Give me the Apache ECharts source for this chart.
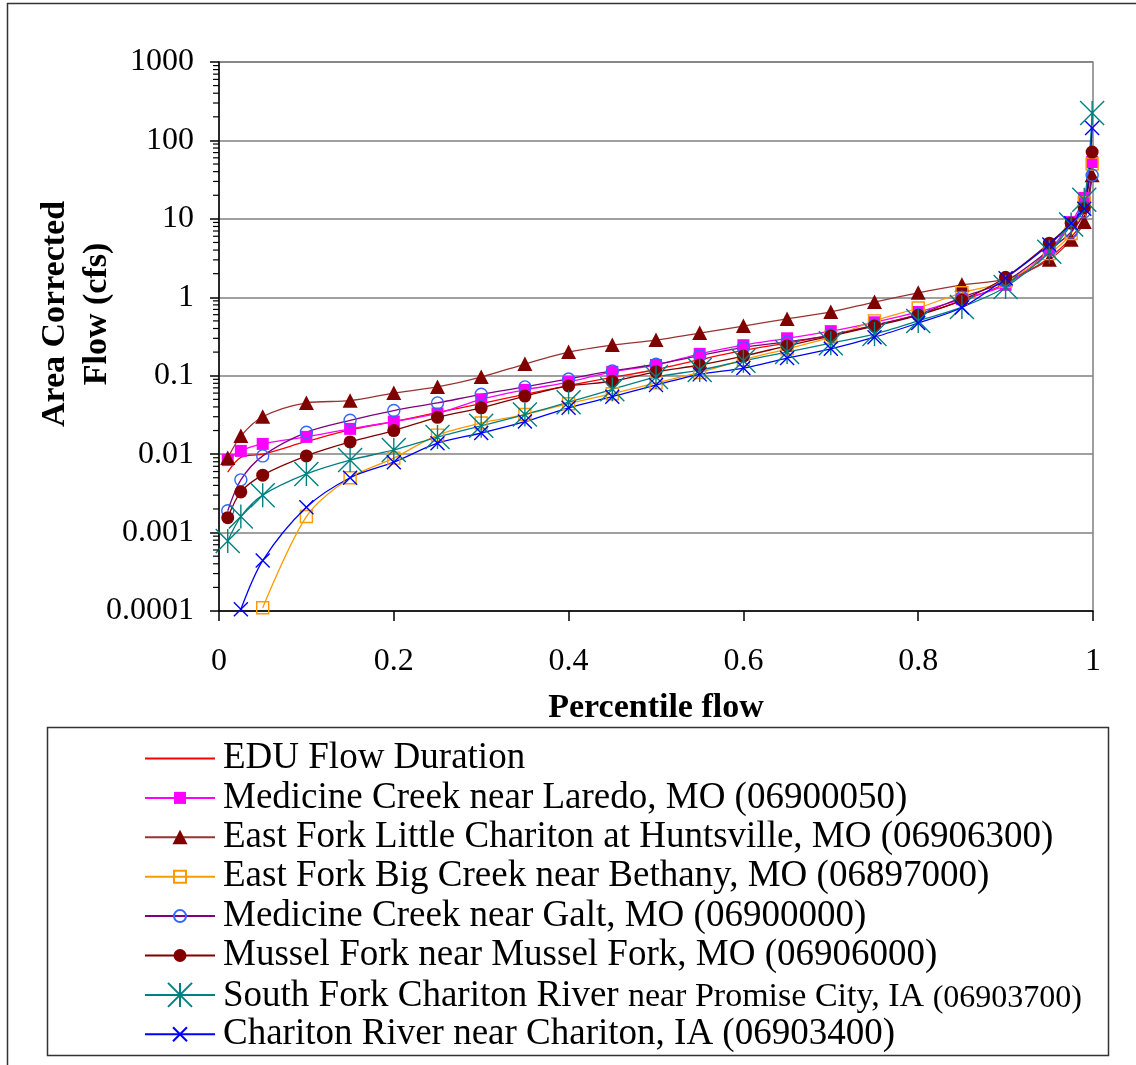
<!DOCTYPE html>
<html>
<head>
<meta charset="utf-8">
<script src="https://cdn.jsdelivr.net/npm/echarts@6/dist/echarts.min.js"></script>
<style>
html,body{margin:0;padding:0;background:#fff;}
#c{width:1136px;height:1065px;}
</style>
</head>
<body>
<div id="c"></div>
<script>
// ---------- data ----------
const percentiles = [0.01, 0.025, 0.05, 0.1, 0.15, 0.2, 0.25, 0.3, 0.35, 0.4, 0.45, 0.5, 0.55, 0.6, 0.65, 0.7, 0.75, 0.8, 0.85, 0.9, 0.95, 0.975, 0.99, 0.999];

const eduFlow        = [0.0059, 0.0091, 0.010, 0.0145, 0.0204, 0.026, 0.034, 0.044, 0.058, 0.075, 0.095, 0.12, 0.16, 0.21, 0.26, 0.33, 0.44, 0.60, 0.90, 1.5, 3.2, 5.8, 10.5, 42];
const medicineLaredo = [0.0084, 0.011, 0.0135, 0.0166, 0.021, 0.026, 0.033, 0.050, 0.066, 0.083, 0.112, 0.137, 0.19, 0.245, 0.30, 0.37, 0.48, 0.65, 0.95, 1.44, 4.0, 9.1, 18.5, 53];
const eastForkLittle = [0.0089, 0.017, 0.030, 0.045, 0.048, 0.060, 0.072, 0.096, 0.141, 0.20, 0.246, 0.285, 0.35, 0.43, 0.53, 0.65, 0.87, 1.14, 1.44, 1.7, 3.0, 5.4, 9.1, 36];
const eastForkBig    = [null, null, 0.00011, 0.0016, 0.005, 0.0089, 0.0175, 0.025, 0.032, 0.044, 0.059, 0.081, 0.11, 0.16, 0.22, 0.31, 0.50, 0.73, 1.14, 1.6, 3.6, 6.5, 16, 50];
const medicineGalt   = [0.0019, 0.0047, 0.0095, 0.019, 0.027, 0.036, 0.045, 0.058, 0.072, 0.091, 0.115, 0.14, 0.18, 0.23, 0.27, 0.33, 0.44, 0.60, 1.0, 1.6, 4.0, 6.8, 12.3, 36];
const musselFork     = [0.00155, 0.0033, 0.0054, 0.0095, 0.0143, 0.020, 0.0295, 0.039, 0.055, 0.074, 0.085, 0.112, 0.137, 0.178, 0.24, 0.32, 0.43, 0.59, 0.92, 1.8, 4.9, 8.8, 14, 71];
const southFork      = [0.00078, 0.0016, 0.003, 0.0056, 0.0084, 0.0113, 0.0165, 0.023, 0.032, 0.046, 0.067, 0.096, 0.118, 0.155, 0.20, 0.26, 0.34, 0.50, 0.75, 1.35, 3.8, 8.5, 17.5, 224];
const charitonRiver  = [null, 0.000105, 0.00044, 0.0021, 0.005, 0.0079, 0.0138, 0.0186, 0.026, 0.039, 0.054, 0.076, 0.104, 0.125, 0.168, 0.22, 0.31, 0.47, 0.74, 1.75, 4.7, 8.8, 13.5, 144];

const seriesNames = [
  'EDU Flow Duration',
  'Medicine Creek near Laredo, MO (06900050)',
  'East Fork Little Chariton at Huntsville, MO (06906300)',
  'East Fork Big Creek near Bethany, MO (06897000)',
  'Medicine Creek near Galt, MO (06900000)',
  'Mussel Fork near Mussel Fork, MO (06906000)',
  'South Fork Chariton River near Promise City, IA (06903700)',
  'Chariton River near Chariton, IA (06903400)'
];

const yTickLabels = ['0.0001', '0.001', '0.01', '0.1', '1', '10', '100', '1000'];
const xTickLabels = ['0', '0.2', '0.4', '0.6', '0.8', '1'];
const minorTickMultipliers = [2, 3, 4, 5, 6, 7, 8, 9];

// ---------- styling ----------
const FONT = '"Liberation Serif", "Times New Roman", Times, serif';
const SYM = {
  none:     'path://M0,0M24,24',
  rectFill: 'path://M0,0M24,24M6,6L18,6L18,18L6,18Z',
  triFill:  'path://M0,0M24,24M4.5,19L12,4.5L19.5,19Z',
  rectOpen: 'path://M0,0M24,24M6,6L18,6L18,18L6,18Z',
  circOpen: 'path://M0,0M24,24M18,12A6,6,0,1,1,6,12A6,6,0,1,1,18,12Z',
  circFill: 'path://M0,0M24,24M18.5,12A6.5,6.5,0,1,1,5.5,12A6.5,6.5,0,1,1,18.5,12Z',
  star:     'path://M12,0L12,24M0,0L24,24M24,0L0,24',
  cross:    'path://M0,0M24,24M5,5L19,19M19,5L5,19'
};

function toPairs(vals) {
  return percentiles.map((x, i) => [x, vals[i]]).filter(p => p[1] != null);
}

function lineSeries(name, vals, lineColor, symbol, fill, stroke) {
  return {
    name: name,
    type: 'line',
    smooth: 0.3,
    data: toPairs(vals),
    symbol: symbol,
    symbolSize: 24,
    showSymbol: symbol !== SYM.none,
    lineStyle: { color: lineColor, width: 1.3 },
    itemStyle: fill
      ? { color: fill, borderWidth: 0 }
      : { color: 'rgba(0,0,0,0)', borderColor: stroke, borderWidth: 1.4 },
    emphasis: { disabled: true },
    silent: true
  };
}

const series = [
  lineSeries(seriesNames[0], eduFlow, '#FF0000', SYM.none, null, '#FF0000'),
  lineSeries(seriesNames[1], medicineLaredo, '#FF00FF', SYM.rectFill, '#FF00FF'),
  lineSeries(seriesNames[2], eastForkLittle, '#993333', SYM.triFill, '#800000'),
  lineSeries(seriesNames[3], eastForkBig, '#FF9900', SYM.rectOpen, null, '#FF9900'),
  lineSeries(seriesNames[4], medicineGalt, '#800080', SYM.circOpen, null, '#3366FF'),
  lineSeries(seriesNames[5], musselFork, '#800000', SYM.circFill, '#800000'),
  lineSeries(seriesNames[6], southFork, '#008080', SYM.star, null, '#008080'),
  lineSeries(seriesNames[7], charitonRiver, '#0000FF', SYM.cross, null, '#0000FF')
];

// minor (logarithmic) ticks on the y axis, drawn through the axis scale
const minorTickData = [];
yTickLabels.slice(0, -1).forEach(lbl => {
  const d = Number(lbl);
  minorTickMultipliers.forEach(m => minorTickData.push([0, d * m]));
});
series.push({
  name: 'minorTicks',
  type: 'custom',
  coordinateSystem: 'cartesian2d',
  clip: false,
  silent: true,
  z: 10,
  data: minorTickData,
  encode: { x: 0, y: 1 },
  renderItem: function (params, api) {
    const p = api.coord([api.value(0), api.value(1)]);
    return {
      type: 'line',
      shape: { x1: p[0] - 6, y1: p[1], x2: p[0], y2: p[1] },
      style: { stroke: '#000', lineWidth: 1.2 }
    };
  }
});

const option = {
  animation: false,
  backgroundColor: '#fff',
  textStyle: { fontFamily: FONT },
  grid: {
    left: 219, right: 43, top: 62, bottom: 454,
    show: true, borderColor: '#808080', borderWidth: 1.5,
    backgroundColor: 'rgba(0,0,0,0)',
    outerBoundsMode: 'none'
  },
  xAxis: {
    type: 'value', min: 0, max: 1, interval: 0.2,
    name: 'Percentile flow', nameLocation: 'middle', nameGap: 80,
    nameTextStyle: { fontFamily: FONT, fontSize: 34, fontWeight: 'bold', color: '#000' },
    axisLine: { show: true, onZero: false, lineStyle: { color: '#000', width: 1.5 } },
    axisTick: { show: true, inside: false, length: 10, lineStyle: { color: '#000', width: 1.5 } },
    axisLabel: {
      fontFamily: FONT, fontSize: 32, color: '#000', margin: 35,
      showMinLabel: true, showMaxLabel: true,
      formatter: function (v) { return xTickLabels[Math.round(v / 0.2)]; }
    },
    splitLine: { show: false }
  },
  yAxis: {
    type: 'log', logBase: 10, min: 0.0001, max: 1000,
    axisLine: { show: true, onZero: false, lineStyle: { color: '#000', width: 1.5 } },
    axisTick: { show: true, inside: false, length: 9, lineStyle: { color: '#000', width: 1.5 } },
    axisLabel: {
      fontFamily: FONT, fontSize: 32, color: '#000', margin: 25,
      showMinLabel: true, showMaxLabel: true,
      formatter: function (v) { return yTickLabels[Math.round(Math.log10(v)) + 4]; }
    },
    splitLine: { show: true, lineStyle: { color: '#808080', width: 1.5 } },
    minorTick: { show: false }
  },
  legend: {
    show: true,
    orient: 'vertical',
    left: 144, top: 739,
    padding: 0,
    itemWidth: 70, itemHeight: 30, itemGap: 0.4,
    selectedMode: false,
    data: seriesNames,
    textStyle: {
      fontFamily: FONT, fontSize: 37, color: '#000', lineHeight: 39,
      padding: [0, 0, 0, 3],
      rich: {
        a: { fontFamily: FONT, fontSize: 37, color: '#000', lineHeight: 39, verticalAlign: 'bottom' },
        b: { fontFamily: FONT, fontSize: 34, color: '#000', lineHeight: 39, verticalAlign: 'bottom' },
        c: { fontFamily: FONT, fontSize: 32, color: '#000', lineHeight: 39, verticalAlign: 'bottom' }
      }
    },
    formatter: function (name) {
      if (name === seriesNames[6]) {
        return '{a|South Fork Chariton River }{b|near Promise City, IA }{c|(06903700)}';
      }
      return name;
    }
  },
  graphic: [
    { type: 'rect', silent: true, z: 100,
      shape: { x: 7.5, y: 3.5, width: 1140, height: 1070 },
      style: { fill: 'none', stroke: '#333', lineWidth: 1.5 } },
    { type: 'rect', silent: true, z: 100,
      shape: { x: 47.5, y: 727.5, width: 1061, height: 328 },
      style: { fill: 'none', stroke: '#333', lineWidth: 1.5 } },
    { type: 'text', silent: true, z: 100,
      x: 76, y: 314, rotation: Math.PI / 2,
      style: {
        text: 'Area Corrected\nFlow (cfs)',
        font: 'bold 34px ' + FONT,
        fill: '#000', align: 'center', verticalAlign: 'middle', lineHeight: 42
      } }
  ],
  series: series
};

const chart = echarts.init(document.getElementById('c'));
chart.setOption(option);
</script>
</body>
</html>
